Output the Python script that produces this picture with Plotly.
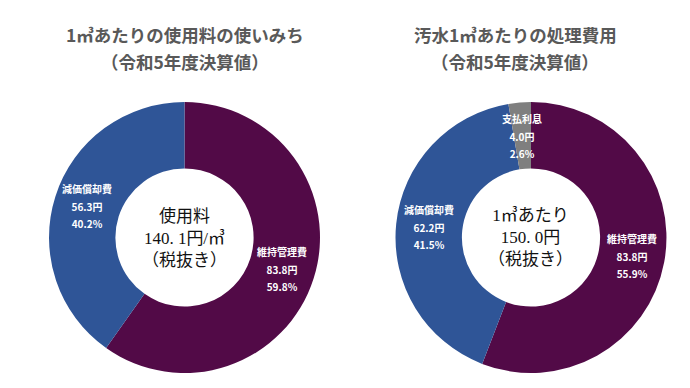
import math
import plotly.graph_objects as go

# ---- data ----
left_labels = ["維持管理費", "減価償却費"]
left_values = [83.8, 56.3]
left_pct = [59.8, 40.2]

right_labels = ["維持管理費", "減価償却費", "支払利息"]
right_values = [83.8, 62.2, 4.0]
right_pct = [55.9, 41.5, 2.6]

left_title = ["1㎥あたりの使用料の使いみち", "（令和5年度決算値）"]
right_title = ["汚水1㎥あたりの処理費用", "（令和5年度決算値）"]
left_center = "使用料<br>140. 1円/㎥<br>（税抜き）"
right_center = "1㎥あたり<br>150. 0円<br>（税抜き）"

colors_left = ["#520A47", "#2F5597"]
colors_right = ["#520A47", "#2F5597", "#7F7F7F"]

W, H = 690, 388
HOLE = 0.51
base_size = 13.5   # controls line spacing of the slice labels
label_font = dict(family="Noto Sans CJK JP", size=base_size, color="white")
sp = "<span style='font-size:10px'><b>{}</b></span>"

left_dom = dict(x=[0.0594, 0.4522], y=[0.0593, 0.7577])
right_dom = dict(x=[0.5616, 0.9543], y=[0.0593, 0.7577])

fig = go.Figure()
for labs, vals, cols, dom in ((left_labels, left_values, colors_left, left_dom),
                              (right_labels, right_values, colors_right, right_dom)):
    fig.add_trace(go.Pie(
        labels=labs, values=vals, domain=dom, hole=HOLE, sort=False,
        direction="clockwise", rotation=0,
        marker=dict(colors=cols, line=dict(width=0)),
        textinfo="none", hoverinfo="skip", showlegend=False,
    ))

title_font = dict(family="Noto Sans CJK JP", size=17.5, color="#595959")
center_font = dict(family="Liberation Serif, Noto Sans CJK JP", size=17, color="#111111")

ann = []
for xc, lines in ((177 / W, left_title), (507 / W, right_title)):
    for i, t in enumerate(lines):
        ann.append(dict(text=f"<b>{t}</b>", x=xc, y=1 - (27 + 27 * i) / H,
                        xref="paper", yref="paper", showarrow=False,
                        xanchor="center", yanchor="middle", font=title_font))
for dom, t in ((left_dom, left_center), (right_dom, right_center)):
    ann.append(dict(text=t, x=sum(dom["x"]) / 2, y=sum(dom["y"]) / 2,
                    xref="paper", yref="paper", showarrow=False,
                    xanchor="center", yanchor="middle", font=center_font))

# slice labels at each slice's mid-angle, in the middle of the ring
for labs, vals, pcts, dom in ((left_labels, left_values, left_pct, left_dom),
                              (right_labels, right_values, right_pct, right_dom)):
    total = sum(vals)
    cx = sum(dom["x"]) / 2 * W
    cy = sum(dom["y"]) / 2 * H
    R = min((dom["x"][1] - dom["x"][0]) * W, (dom["y"][1] - dom["y"][0]) * H) / 2
    r = R * (HOLE + 1) / 2
    cum = 0
    for lab, v, p in zip(labs, vals, pcts):
        mid = (cum + v / 2) / total * 2 * math.pi
        cum += v
        ann.append(dict(
            text="<br>".join([sp.format(lab), sp.format(f"{v:.1f}円"), sp.format(f"{p:.1f}%")]),
            x=(cx + r * math.sin(mid)) / W, y=(cy + r * math.cos(mid)) / H,
            xref="paper", yref="paper", showarrow=False,
            xanchor="center", yanchor="middle", font=label_font))

fig.update_layout(
    width=W, height=H, margin=dict(l=0, r=0, t=0, b=0),
    paper_bgcolor="white", plot_bgcolor="white",
    annotations=ann,
)
fig.write_html("out.html")
